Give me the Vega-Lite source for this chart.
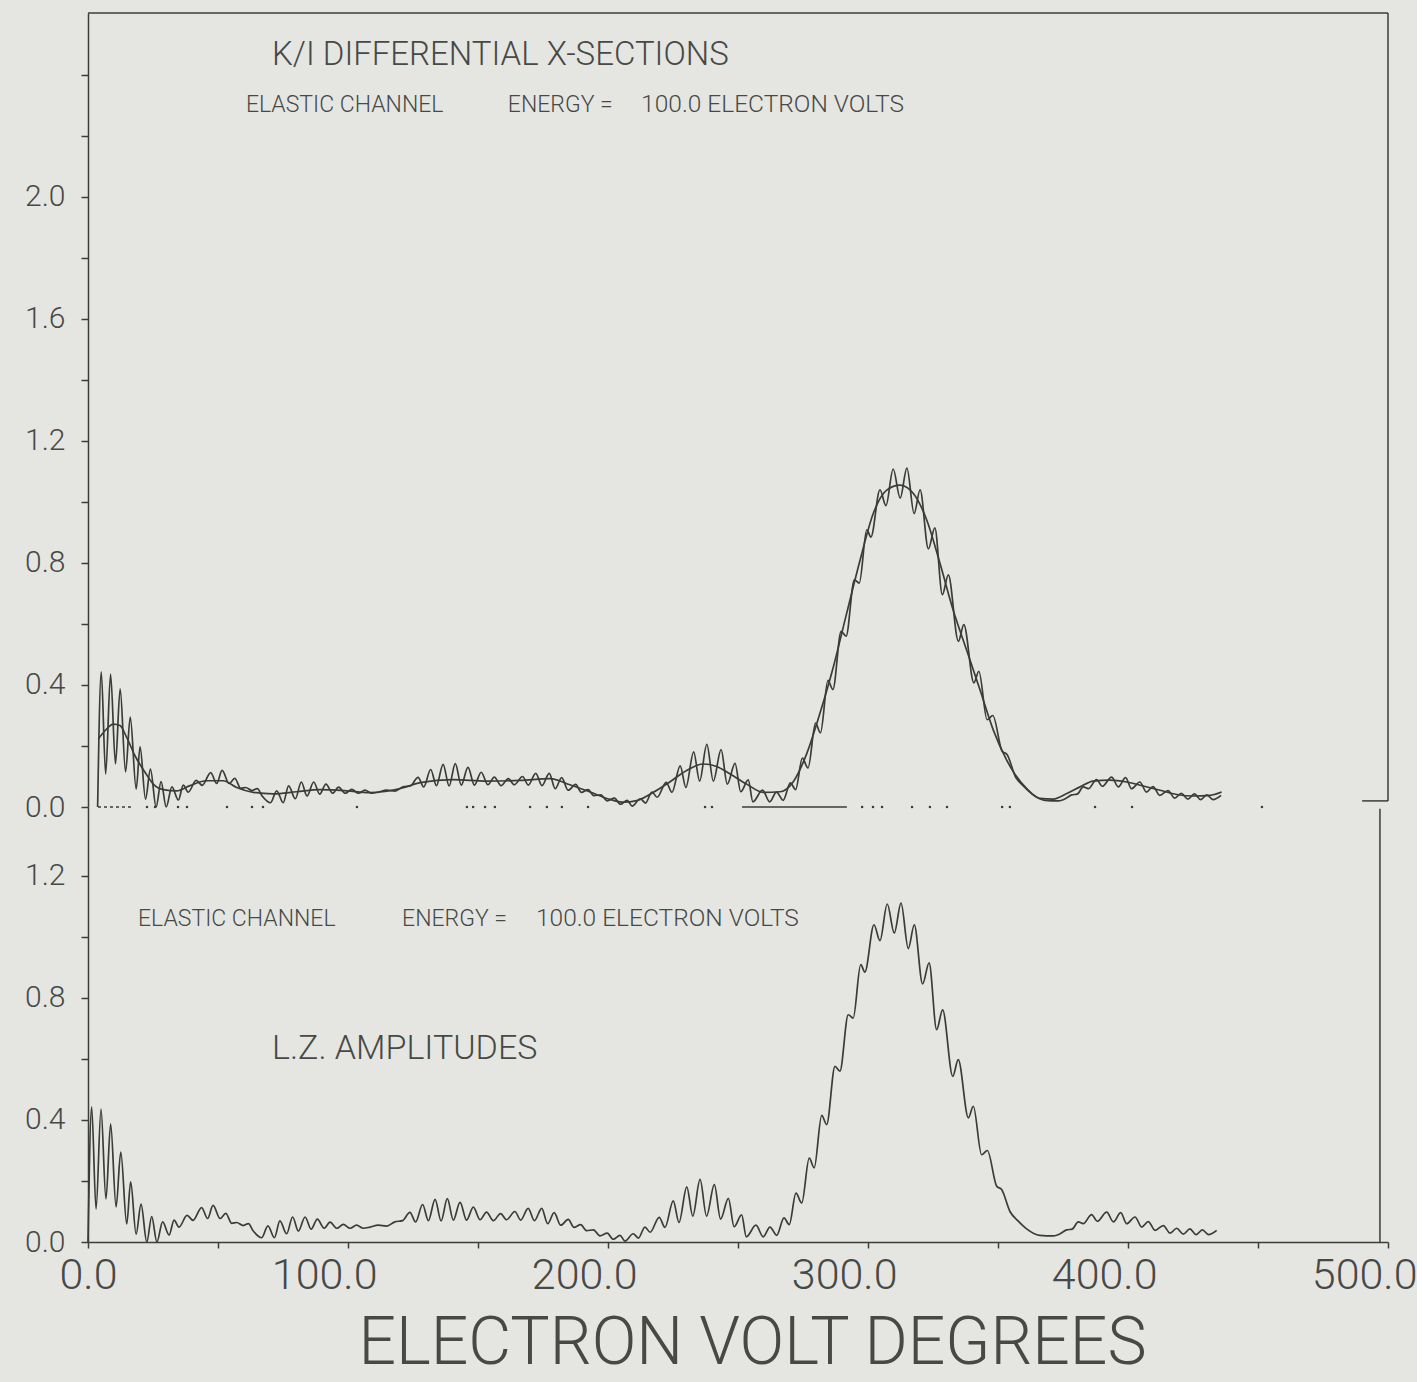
{
  "$schema": "https://vega.github.io/schema/vega-lite/v6.json",
  "background": "#e5e6e2",
  "padding": {"left": 0, "top": 12, "right": 0, "bottom": 6},
  "bounds": "flush",
  "spacing": 0,
  "config": {
    "view": {"stroke": null},
    "font": "Roboto",
    "text": {"font": "Roboto", "fontWeight": 300, "color": "#474946"},
    "axis": {
      "grid": false,
      "domainColor": "#3b3d3a",
      "domainWidth": 1.5,
      "tickColor": "#3b3d3a",
      "tickWidth": 1.5,
      "labelColor": "#474946",
      "labelFont": "Roboto",
      "labelFontWeight": 300,
      "titleFont": "Roboto",
      "titleColor": "#474946",
      "titleFontWeight": 300
    }
  },
  "datasets": {
    "lz": [
      {"x": 0, "y": 0}, {"x": 1.4, "y": 0.443}, {"x": 3.1, "y": 0.108}, {"x": 5.0, "y": 0.436}, {"x": 6.9, "y": 0.141},
      {"x": 8.7, "y": 0.387}, {"x": 10.8, "y": 0.115}, {"x": 12.6, "y": 0.295}, {"x": 14.9, "y": 0.059}, {"x": 16.4, "y": 0.197},
      {"x": 18.5, "y": 0.026}, {"x": 20.4, "y": 0.124}, {"x": 22.6, "y": 0.0}, {"x": 24.5, "y": 0.083}, {"x": 26.5, "y": 0.0},
      {"x": 28.7, "y": 0.066}, {"x": 31.2, "y": 0.023}, {"x": 33.1, "y": 0.072}, {"x": 35.0, "y": 0.049}, {"x": 38.1, "y": 0.087},
      {"x": 40.4, "y": 0.071}, {"x": 43.7, "y": 0.113}, {"x": 46.0, "y": 0.077}, {"x": 48.1, "y": 0.12}, {"x": 50.8, "y": 0.077},
      {"x": 53.0, "y": 0.094}, {"x": 55.3, "y": 0.061}, {"x": 57.2, "y": 0.064}, {"x": 59.7, "y": 0.054}, {"x": 61.7, "y": 0.06},
      {"x": 63.5, "y": 0.037}, {"x": 66.8, "y": 0.014}, {"x": 69.2, "y": 0.053}, {"x": 71.7, "y": 0.014}, {"x": 73.8, "y": 0.069},
      {"x": 76.4, "y": 0.027}, {"x": 78.7, "y": 0.082}, {"x": 80.9, "y": 0.036}, {"x": 83.5, "y": 0.082}, {"x": 85.8, "y": 0.042},
      {"x": 88.2, "y": 0.075}, {"x": 90.8, "y": 0.045}, {"x": 93.1, "y": 0.065}, {"x": 95.7, "y": 0.045}, {"x": 98.2, "y": 0.058},
      {"x": 100.8, "y": 0.045}, {"x": 103.3, "y": 0.055}, {"x": 105.9, "y": 0.045}, {"x": 108.5, "y": 0.049}, {"x": 111.6, "y": 0.055},
      {"x": 114.9, "y": 0.052}, {"x": 118.0, "y": 0.066}, {"x": 121.0, "y": 0.07},
      {"x": 123.8, "y": 0.097}, {"x": 126.0, "y": 0.066}, {"x": 128.7, "y": 0.123}, {"x": 130.9, "y": 0.07},
      {"x": 133.5, "y": 0.14}, {"x": 135.8, "y": 0.069}, {"x": 138.2, "y": 0.142}, {"x": 140.5, "y": 0.072}, {"x": 143.1, "y": 0.13},
      {"x": 145.6, "y": 0.072}, {"x": 148.2, "y": 0.114}, {"x": 150.8, "y": 0.073}, {"x": 153.3, "y": 0.098}, {"x": 155.9, "y": 0.07},
      {"x": 158.7, "y": 0.093}, {"x": 161.0, "y": 0.073}, {"x": 164.2, "y": 0.1}, {"x": 166.4, "y": 0.072}, {"x": 169.3, "y": 0.11},
      {"x": 171.7, "y": 0.07}, {"x": 174.5, "y": 0.11}, {"x": 176.8, "y": 0.06}, {"x": 179.3, "y": 0.096}, {"x": 181.8, "y": 0.055},
      {"x": 184.7, "y": 0.074}, {"x": 186.9, "y": 0.048}, {"x": 189.5, "y": 0.057}, {"x": 191.8, "y": 0.037}, {"x": 194.4, "y": 0.04},
      {"x": 196.9, "y": 0.02}, {"x": 199.7, "y": 0.029}, {"x": 202.0, "y": 0.009}, {"x": 204.6, "y": 0.022}, {"x": 206.5, "y": 0.003},
      {"x": 209.7, "y": 0.027}, {"x": 211.7, "y": 0.013}, {"x": 214.2, "y": 0.049}, {"x": 216.2, "y": 0.032}, {"x": 219.7, "y": 0.081},
      {"x": 221.9, "y": 0.048}, {"x": 225.1, "y": 0.135}, {"x": 227.3, "y": 0.064}, {"x": 230.3, "y": 0.181}, {"x": 232.6, "y": 0.085},
      {"x": 235.4, "y": 0.205}, {"x": 237.9, "y": 0.085}, {"x": 240.9, "y": 0.188}, {"x": 243.3, "y": 0.075}, {"x": 246.3, "y": 0.143},
      {"x": 248.5, "y": 0.05}, {"x": 251.4, "y": 0.089}, {"x": 253.2, "y": 0.017}, {"x": 256.9, "y": 0.055}, {"x": 259.7, "y": 0.017},
      {"x": 262.3, "y": 0.049}, {"x": 264.9, "y": 0.022}, {"x": 267.7, "y": 0.079}, {"x": 269.7, "y": 0.057}, {"x": 272.3, "y": 0.16},
      {"x": 274.5, "y": 0.128}, {"x": 277.4, "y": 0.275}, {"x": 279.3, "y": 0.243}, {"x": 282.2, "y": 0.415}, {"x": 284.1, "y": 0.385},
      {"x": 287.3, "y": 0.576}, {"x": 289.2, "y": 0.56}, {"x": 292.4, "y": 0.745}, {"x": 294.3, "y": 0.734}, {"x": 297.2, "y": 0.909},
      {"x": 298.8, "y": 0.885}, {"x": 302.3, "y": 1.04}, {"x": 304.6, "y": 0.988}, {"x": 307.4, "y": 1.108}, {"x": 310.1, "y": 1.013},
      {"x": 312.7, "y": 1.111}, {"x": 315.5, "y": 0.962}, {"x": 317.8, "y": 1.04}, {"x": 321.0, "y": 0.846}, {"x": 323.5, "y": 0.915},
      {"x": 326.4, "y": 0.696}, {"x": 328.7, "y": 0.761}, {"x": 332.6, "y": 0.543}, {"x": 334.7, "y": 0.598}, {"x": 338.6, "y": 0.407},
      {"x": 340.5, "y": 0.445}, {"x": 343.7, "y": 0.286}, {"x": 345.9, "y": 0.3}, {"x": 349.5, "y": 0.183}, {"x": 351.4, "y": 0.172},
      {"x": 354.6, "y": 0.1}, {"x": 357.6, "y": 0.07}, {"x": 361.0, "y": 0.043}, {"x": 366.0, "y": 0.022}, {"x": 371.3, "y": 0.02},
      {"x": 374.5, "y": 0.03}, {"x": 376.4, "y": 0.04}, {"x": 378.5, "y": 0.042}, {"x": 380.9, "y": 0.066}, {"x": 382.8, "y": 0.06},
      {"x": 386.0, "y": 0.09}, {"x": 388.2, "y": 0.068}, {"x": 391.8, "y": 0.098}, {"x": 394.4, "y": 0.066}, {"x": 397.2, "y": 0.096},
      {"x": 399.5, "y": 0.06}, {"x": 402.7, "y": 0.082}, {"x": 405.3, "y": 0.049}, {"x": 407.8, "y": 0.067}, {"x": 410.4, "y": 0.038},
      {"x": 413.6, "y": 0.054}, {"x": 416.2, "y": 0.029}, {"x": 418.7, "y": 0.045}, {"x": 421.3, "y": 0.026}, {"x": 423.8, "y": 0.043},
      {"x": 426.2, "y": 0.024}, {"x": 428.6, "y": 0.04}, {"x": 431.0, "y": 0.024}, {"x": 434.1, "y": 0.038}
    ],
    "smooth": [
      {"x": 0.26, "y": 0.223}, {"x": 2.85, "y": 0.25}, {"x": 6.06, "y": 0.272}, {"x": 8.64, "y": 0.267}, {"x": 11.23, "y": 0.228},
      {"x": 14.44, "y": 0.168}, {"x": 18.3, "y": 0.114}, {"x": 21.51, "y": 0.075}, {"x": 25.38, "y": 0.057}, {"x": 30.55, "y": 0.053},
      {"x": 35.69, "y": 0.07}, {"x": 42.15, "y": 0.086}, {"x": 48.56, "y": 0.086}, {"x": 53.74, "y": 0.064}, {"x": 60.15, "y": 0.048},
      {"x": 67.88, "y": 0.043}, {"x": 76.92, "y": 0.05}, {"x": 85.92, "y": 0.057}, {"x": 96.24, "y": 0.053}, {"x": 105.0, "y": 0.047},
      {"x": 118.1, "y": 0.063}, {"x": 124.6, "y": 0.08}, {"x": 137.4, "y": 0.09}, {"x": 150.3, "y": 0.085}, {"x": 163.2, "y": 0.087},
      {"x": 174.8, "y": 0.093}, {"x": 182.5, "y": 0.073}, {"x": 190.3, "y": 0.049}, {"x": 198.0, "y": 0.025}, {"x": 203.1, "y": 0.016},
      {"x": 208.3, "y": 0.021}, {"x": 214.7, "y": 0.048}, {"x": 221.2, "y": 0.083}, {"x": 227.6, "y": 0.12}, {"x": 234.0, "y": 0.141},
      {"x": 239.2, "y": 0.133}, {"x": 244.4, "y": 0.108}, {"x": 250.8, "y": 0.075}, {"x": 257.2, "y": 0.048}, {"x": 263.7, "y": 0.05},
      {"x": 268.8, "y": 0.083}, {"x": 274.0, "y": 0.175}, {"x": 279.1, "y": 0.307}, {"x": 284.3, "y": 0.46}, {"x": 289.4, "y": 0.634},
      {"x": 294.6, "y": 0.809}, {"x": 299.7, "y": 0.962}, {"x": 304.9, "y": 1.039}, {"x": 310.0, "y": 1.055}, {"x": 315.2, "y": 1.028},
      {"x": 320.4, "y": 0.94}, {"x": 325.5, "y": 0.798}, {"x": 330.6, "y": 0.645}, {"x": 335.8, "y": 0.514}, {"x": 341.0, "y": 0.383},
      {"x": 346.1, "y": 0.252}, {"x": 351.3, "y": 0.153}, {"x": 353.8, "y": 0.116}, {"x": 358.9, "y": 0.061}, {"x": 364.1, "y": 0.028},
      {"x": 369.3, "y": 0.026}, {"x": 374.5, "y": 0.044}, {"x": 379.6, "y": 0.066}, {"x": 384.7, "y": 0.085}, {"x": 391.2, "y": 0.088},
      {"x": 397.6, "y": 0.082}, {"x": 404.0, "y": 0.069}, {"x": 410.5, "y": 0.055}, {"x": 417.0, "y": 0.041}, {"x": 423.4, "y": 0.036},
      {"x": 429.8, "y": 0.038}, {"x": 434.3, "y": 0.049}
    ],
    "zero_dots": [
      {"x": 19.08}, {"x": 22.17}, {"x": 31.06}, {"x": 34.53}, {"x": 49.99}, {"x": 59.65}, {"x": 63.9}, {"x": 100.2},
      {"x": 142.7}, {"x": 145.1}, {"x": 149.7}, {"x": 153.5}, {"x": 167.1}, {"x": 173.6}, {"x": 179.4}, {"x": 189.5},
      {"x": 234.7}, {"x": 237.4}, {"x": 295.4}, {"x": 299.6}, {"x": 303.1}, {"x": 314.7}, {"x": 321.6}, {"x": 328.2},
      {"x": 349.5}, {"x": 352.5}, {"x": 385.4}, {"x": 399.7}, {"x": 449.9}
    ],
    "zero_solid": [{"x": 249.0, "x2": 289.5}],
    "zero_dotted": [{"x": 0.14, "x2": 13.67}]
  },
  "resolve": {"scale": {"x": "independent", "y": "independent"}},
  "vconcat": [
    {
      "width": 1300,
      "height": 794,
      "layer": [
        {
          "data": {"name": "lz"},
          "mark": {"type": "line", "interpolate": "monotone", "color": "#393c38", "strokeWidth": 1.7},
          "encoding": {
            "x": {"field": "x", "type": "quantitative", "title": null, "scale": {"domain": [-3.72, 498.6], "nice": false, "zero": false}, "axis": null},
            "y": {
              "field": "y", "type": "quantitative", "title": null,
              "scale": {"domain": [0, 2.603], "nice": false},
              "axis": {
                "values": [0, 0.2, 0.4, 0.6, 0.8, 1, 1.2, 1.4, 1.6, 1.8, 2, 2.2, 2.4],
                "labelExpr": "(round(datum.value * 10) % 4 == 0 && datum.value <= 2) ? format(datum.value, '.1f') : ''",
                "tickSize": 7, "labelPadding": 16, "labelFontSize": 30,
                "minExtent": 88, "maxExtent": 88
              }
            }
          }
        },
        {
          "data": {"name": "smooth"},
          "mark": {"type": "line", "interpolate": "monotone", "color": "#393c38", "strokeWidth": 1.7},
          "encoding": {
            "x": {"field": "x", "type": "quantitative", "title": null},
            "y": {"field": "y", "type": "quantitative", "title": null}
          }
        },
        {
          "data": {"name": "zero_dots"},
          "mark": {"type": "point", "shape": "square", "filled": true, "size": 5, "color": "#393c38", "opacity": 1},
          "encoding": {
            "x": {"field": "x", "type": "quantitative", "title": null},
            "y": {"datum": 0}
          }
        },
        {
          "data": {"name": "zero_solid"},
          "mark": {"type": "rule", "color": "#393c38", "strokeWidth": 1.4},
          "encoding": {
            "x": {"field": "x", "type": "quantitative", "title": null},
            "x2": {"field": "x2"},
            "y": {"datum": 0}
          }
        },
        {
          "data": {"name": "zero_dotted"},
          "mark": {"type": "rule", "color": "#393c38", "strokeWidth": 1.4, "strokeDash": [3, 3]},
          "encoding": {
            "x": {"field": "x", "type": "quantitative", "title": null},
            "x2": {"field": "x2"},
            "y": {"datum": 0}
          }
        },
        {
          "data": {"values": [{}]},
          "mark": {"type": "rule", "color": "#3b3d3a", "strokeWidth": 1.5},
          "encoding": {"x": {"datum": -3.72}, "x2": {"datum": 498.6}, "y": {"datum": 2.603}}
        },
        {
          "data": {"values": [{}]},
          "mark": {"type": "rule", "color": "#3b3d3a", "strokeWidth": 1.5},
          "encoding": {"x": {"datum": 498.6}, "y": {"datum": 0.02}, "y2": {"datum": 2.603}}
        },
        {
          "data": {"values": [{}]},
          "mark": {"type": "rule", "color": "#3b3d3a", "strokeWidth": 1.5},
          "encoding": {"x": {"datum": 488.6}, "x2": {"datum": 498.6}, "y": {"datum": 0.02}}
        },
        {
          "data": {"values": [{}]},
          "mark": {"type": "text", "text": "K/I DIFFERENTIAL X-SECTIONS", "align": "left", "baseline": "middle", "fontSize": 33},
          "encoding": {"x": {"datum": 67.38}, "y": {"datum": 2.466}}
        },
        {
          "data": {"values": [{}]},
          "mark": {"type": "text", "text": "ELASTIC CHANNEL", "align": "left", "baseline": "middle", "fontSize": 23},
          "encoding": {"x": {"datum": 57.3}, "y": {"datum": 2.302}}
        },
        {
          "data": {"values": [{}]},
          "mark": {"type": "text", "text": "ENERGY =", "align": "left", "baseline": "middle", "fontSize": 23},
          "encoding": {"x": {"datum": 158.5}, "y": {"datum": 2.302}}
        },
        {
          "data": {"values": [{}]},
          "mark": {"type": "text", "text": "100.0 ELECTRON VOLTS", "align": "left", "baseline": "middle", "fontSize": 24.5},
          "encoding": {"x": {"datum": 210.0}, "y": {"datum": 2.302}}
        }
      ]
    },
    {
      "width": 1300,
      "height": 435,
      "layer": [
        {
          "data": {"name": "lz"},
          "mark": {"type": "line", "interpolate": "monotone", "color": "#393c38", "strokeWidth": 1.7},
          "encoding": {
            "x": {
              "field": "x", "type": "quantitative",
              "scale": {"domain": [0, 500], "nice": false},
              "title": "ELECTRON VOLT DEGREES",
              "axis": {
                "values": [0, 50, 100, 150, 200, 250, 300, 350, 400, 450, 500],
                "labelExpr": "datum.value % 100 == 0 ? format(datum.value, '.1f') : ''",
                "tickSize": 6, "labelPadding": 6, "labelFontSize": 43,
                "labelAlign": "right", "labelOffset": 29, "labelBaseline": "top",
                "titleFontSize": 66, "titleX": 664, "titleY": 121, "titleAlign": "center", "titleBaseline": "alphabetic"
              }
            },
            "y": {
              "field": "y", "type": "quantitative", "title": null,
              "scale": {"domain": [0, 1.426], "nice": false},
              "axis": {
                "values": [0, 0.2, 0.4, 0.6, 0.8, 1, 1.2],
                "labelExpr": "round(datum.value * 10) % 4 == 0 ? format(datum.value, '.1f') : ''",
                "tickSize": 7, "labelPadding": 16, "labelFontSize": 30,
                "minExtent": 88, "maxExtent": 88
              }
            }
          }
        },
        {
          "data": {"values": [{}]},
          "mark": {"type": "rule", "color": "#3b3d3a", "strokeWidth": 1.5},
          "encoding": {"x": {"datum": 496.9}, "y": {"datum": 0}, "y2": {"datum": 1.42}}
        },
        {
          "data": {"values": [{}]},
          "mark": {"type": "text", "text": "ELASTIC CHANNEL", "align": "left", "baseline": "middle", "fontSize": 23},
          "encoding": {"x": {"datum": 19.23}, "y": {"datum": 1.059}}
        },
        {
          "data": {"values": [{}]},
          "mark": {"type": "text", "text": "ENERGY =", "align": "left", "baseline": "middle", "fontSize": 23},
          "encoding": {"x": {"datum": 120.8}, "y": {"datum": 1.059}}
        },
        {
          "data": {"values": [{}]},
          "mark": {"type": "text", "text": "100.0 ELECTRON VOLTS", "align": "left", "baseline": "middle", "fontSize": 24.5},
          "encoding": {"x": {"datum": 172.3}, "y": {"datum": 1.059}}
        },
        {
          "data": {"values": [{}]},
          "mark": {"type": "text", "text": "L.Z. AMPLITUDES", "align": "left", "baseline": "middle", "fontSize": 34},
          "encoding": {"x": {"datum": 70.77}, "y": {"datum": 0.633}}
        }
      ]
    }
  ]
}
